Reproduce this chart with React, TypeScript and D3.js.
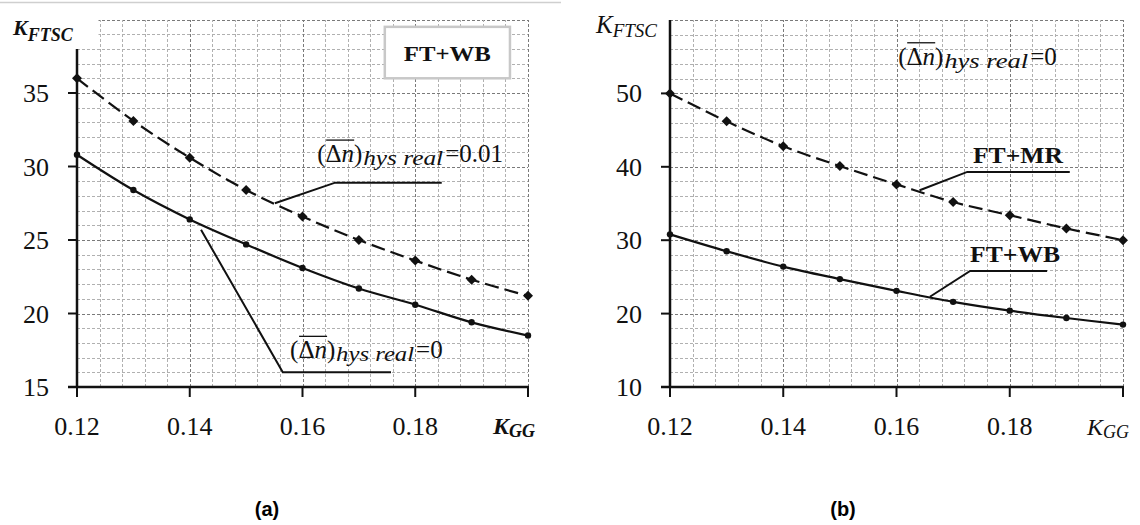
import React from 'react';
import * as d3 from 'd3';

// ---- data ----
const kgg = [0.12, 0.13, 0.14, 0.15, 0.16, 0.17, 0.18, 0.19, 0.2];
const aReal001 = [36.0, 33.1, 30.6, 28.4, 26.6, 25.0, 23.6, 22.3, 21.2];
const aReal0 = [30.8, 28.4, 26.4, 24.7, 23.1, 21.7, 20.6, 19.4, 18.5];
const bFTMR = [50.0, 46.2, 42.8, 40.1, 37.6, 35.2, 33.4, 31.6, 30.0];
const bFTWB = [30.8, 28.5, 26.4, 24.7, 23.1, 21.6, 20.4, 19.4, 18.5];
const xTicks = [0.12, 0.14, 0.16, 0.18, 0.2];
const xTickLabels = ['0.12', '0.14', '0.16', '0.18', ''];
const aYTicks = [15, 20, 25, 30, 35];
const bYTicks = [10, 20, 30, 40, 50];

const SERIF = '"Liberation Serif", "Times New Roman", serif';
const INK = '#111';

type Pt = [number, number];

function Grid({ x, y, xs, ys, xMajor, yMajor }: any) {
  const [x0, x1] = x.range();
  const [y0, y1] = y.range();
  return (
    <g shapeRendering="crispEdges">
      {ys.map((v: number, i: number) => (
        <line key={'h' + i} x1={x0} x2={x1} y1={Math.round(y(v)) + 0.5} y2={Math.round(y(v)) + 0.5}
          stroke={yMajor(v) ? '#7a7a7a' : '#b0b0b0'} strokeWidth={1} strokeDasharray="3 2" />
      ))}
      {xs.map((v: number, i: number) => (
        <line key={'v' + i} y1={y0} y2={y1} x1={Math.round(x(v)) + 0.5} x2={Math.round(x(v)) + 0.5}
          stroke={xMajor(i) ? '#7a7a7a' : '#b0b0b0'} strokeWidth={1} strokeDasharray="3 2" />
      ))}
    </g>
  );
}

function Axes({ x, y, yTicks, yTop }: any) {
  const [x0, x1] = x.range();
  const yb = y.range()[0];
  return (
    <g stroke={INK}>
      <line x1={x0} x2={x0} y1={y(yTop)} y2={yb + 1} strokeWidth={2.5} />
      <line x1={x0 - 9} x2={x1 + 1} y1={yb} y2={yb} strokeWidth={2.5} />
      {yTicks.map((v: number) => (
        <line key={'yt' + v} x1={x0 - 9} x2={x0} y1={y(v)} y2={y(v)} strokeWidth={2} />
      ))}
      {xTicks.map((v) => (
        <line key={'xt' + v} x1={x(v)} x2={x(v)} y1={yb} y2={yb + 10} strokeWidth={2} />
      ))}
      <g stroke="none" fill={INK} fontFamily={SERIF} fontSize={26}>
        {yTicks.map((v: number) => (
          <text key={'yl' + v} x={x0 - 28} y={y(v) + 9} textAnchor="end">{v}</text>
        ))}
        {xTicks.map((v, i) => (
          <text key={'xl' + v} x={x(v)} y={yb + 48} textAnchor="middle">{xTickLabels[i]}</text>
        ))}
      </g>
    </g>
  );
}

function Series({ x, y, vals, dashed }: any) {
  const pts: Pt[] = kgg.map((k, i) => [x(k), y(vals[i])]);
  const line = d3.line().curve(d3.curveCatmullRom.alpha(0.5))(pts) || '';
  return (
    <g>
      <path d={line} fill="none" stroke={INK} strokeWidth={2.2} strokeDasharray={dashed ? '14 6' : undefined} />
      {pts.map((p, i) =>
        dashed ? (
          <path key={i} d="M0,-5L5,0L0,5L-5,0Z" transform={`translate(${p[0]},${p[1]})`} fill={INK} />
        ) : (
          <circle key={i} cx={p[0]} cy={p[1]} r={3.2} fill={INK} />
        )
      )}
    </g>
  );
}

function Leader({ x, y, pts }: any) {
  const d = d3.line()(pts.map((p: Pt) => [x(p[0]), y(p[1])]) as Pt[]) || '';
  return <path d={d} fill="none" stroke={INK} strokeWidth={2} />;
}

function DeltaLabel({ px, py, value, subW = 82, size = 25 }: any) {
  return (
    <g fill={INK} fontFamily={SERIF}>
      <text x={px} y={py} fontSize={size}>
        (Δ<tspan fontStyle="italic">n</tspan>)
      </text>
      <line x1={px + 9} x2={px + 37} y1={py - 22} y2={py - 22} stroke={INK} strokeWidth={1.3} />
      <text x={px + 46} y={py + 3} fontSize={21} fontStyle="italic" textLength={subW} lengthAdjust="spacingAndGlyphs">
        hys real
      </text>
      <text x={px + 46 + subW + 2} y={py} fontSize={size}>={value}</text>
    </g>
  );
}

export default function App() {
  // Panel (a)
  const xa = d3.scaleLinear().domain([0.12, 0.2]).range([77, 528]);
  const ya = d3.scaleLinear().domain([15, 40]).range([387, 19.5]);
  // Panel (b)
  const xb = d3.scaleLinear().domain([0.12, 0.2]).range([670, 1123]);
  const yb = d3.scaleLinear().domain([10, 60]).range([387, 20]);

  const gridX = d3.range(0, 21).map((i) => 0.12 + i * 0.004);
  const gridYa = d3.range(15, 41, 1);
  const gridYb = d3.range(10, 61, 2);

  return (
    <svg width={1140} height={525} style={{ position: 'absolute', left: 0, top: 0, background: '#fff' }}>
      <rect x={0} y={0} width={1140} height={525} fill="#fff" />
      <line x1={0} x2={561} y1={2.5} y2={2.5} stroke="#cfcfcf" strokeWidth={1.5} />

      {/* ---------- panel (a) ---------- */}
      <Grid x={xa} y={ya} xs={gridX} ys={gridYa} xMajor={(i: number) => i % 5 === 0} yMajor={(v: number) => v % 5 === 0} />
      <rect x={70} y={10} width={28.5} height={37.5} fill="#fff" />
      <Axes x={xa} y={ya} yTicks={aYTicks} yTop={38} />
      <Series x={xa} y={ya} vals={aReal001} dashed />
      <Series x={xa} y={ya} vals={aReal0} />
      <Leader x={xa} y={ya} pts={[[0.1847, 28.9], [0.1658, 28.9], [0.1551, 27.5]]} />
      <Leader x={xa} y={ya} pts={[[0.1757, 16.0], [0.1565, 16.0], [0.142, 25.7]]} />
      <DeltaLabel px={xa(0.1626)} py={ya(30.3)} value="0.01" subW={80} />
      <DeltaLabel px={xa(0.1578)} py={ya(16.95)} value="0" subW={78} />
      <rect x={xa(0.1746)} y={ya(39.5)} width={xa(0.1968) - xa(0.1746)} height={ya(36.0) - ya(39.5)}
        fill="#fff" stroke="#c8c8c8" strokeWidth={2.5} />
      <text x={(xa(0.1746) + xa(0.1968)) / 2} y={ya(37.2)} textAnchor="middle" fontFamily={SERIF}
        fontWeight="bold" fontSize={22} fill={INK} textLength={87} lengthAdjust="spacingAndGlyphs">FT+WB</text>
      <text x={13} y={35} fontFamily={SERIF} fill={INK} fontWeight="bold" fontStyle="italic">
        <tspan fontSize={22}>K</tspan>
        <tspan fontSize={18} dy={6}>FTSC</tspan>
      </text>
      <text x={493} y={434} fontFamily={SERIF} fill={INK} fontWeight="bold" fontStyle="italic">
        <tspan fontSize={24}>K</tspan>
        <tspan fontSize={18} dy={3}>GG</tspan>
      </text>

      {/* ---------- panel (b) ---------- */}
      <Grid x={xb} y={yb} xs={gridX} ys={gridYb} xMajor={(i: number) => i % 5 === 0} yMajor={(v: number) => v % 10 === 0} />
      <Axes x={xb} y={yb} yTicks={bYTicks} yTop={60} />
      <Series x={xb} y={yb} vals={bFTMR} dashed />
      <Series x={xb} y={yb} vals={bFTWB} />
      <Leader x={xb} y={yb} pts={[[0.1906, 39.3], [0.1725, 39.3], [0.1641, 36.8]]} />
      <Leader x={xb} y={yb} pts={[[0.1866, 25.8], [0.173, 25.8], [0.1659, 22.3]]} />
      <DeltaLabel px={xb(0.1603)} py={yb(53.9)} value="0" subW={84} />
      <text x={xb(0.1735)} y={yb(40.5)} fontFamily={SERIF} fontWeight="bold" fontSize={24} fill={INK}
        textLength={90} lengthAdjust="spacingAndGlyphs">FT+MR</text>
      <text x={xb(0.173)} y={yb(27.0)} fontFamily={SERIF} fontWeight="bold" fontSize={24} fill={INK}
        textLength={90} lengthAdjust="spacingAndGlyphs">FT+WB</text>
      <text x={596} y={33} fontFamily={SERIF} fill={INK} fontStyle="italic">
        <tspan fontSize={25}>K</tspan>
        <tspan fontSize={19} dy={4}>FTSC</tspan>
      </text>
      <text x={1087} y={435} fontFamily={SERIF} fill={INK} fontStyle="italic">
        <tspan fontSize={24}>K</tspan>
        <tspan fontSize={18} dy={3}>GG</tspan>
      </text>

      {/* ---------- captions ---------- */}
      <text x={267} y={516} textAnchor="middle" fontFamily='"Liberation Sans", Arial, sans-serif' fontWeight="bold" fontSize={20} fill="#000">(a)</text>
      <text x={843} y={516} textAnchor="middle" fontFamily='"Liberation Sans", Arial, sans-serif' fontWeight="bold" fontSize={20} fill="#000">(b)</text>
    </svg>
  );
}
